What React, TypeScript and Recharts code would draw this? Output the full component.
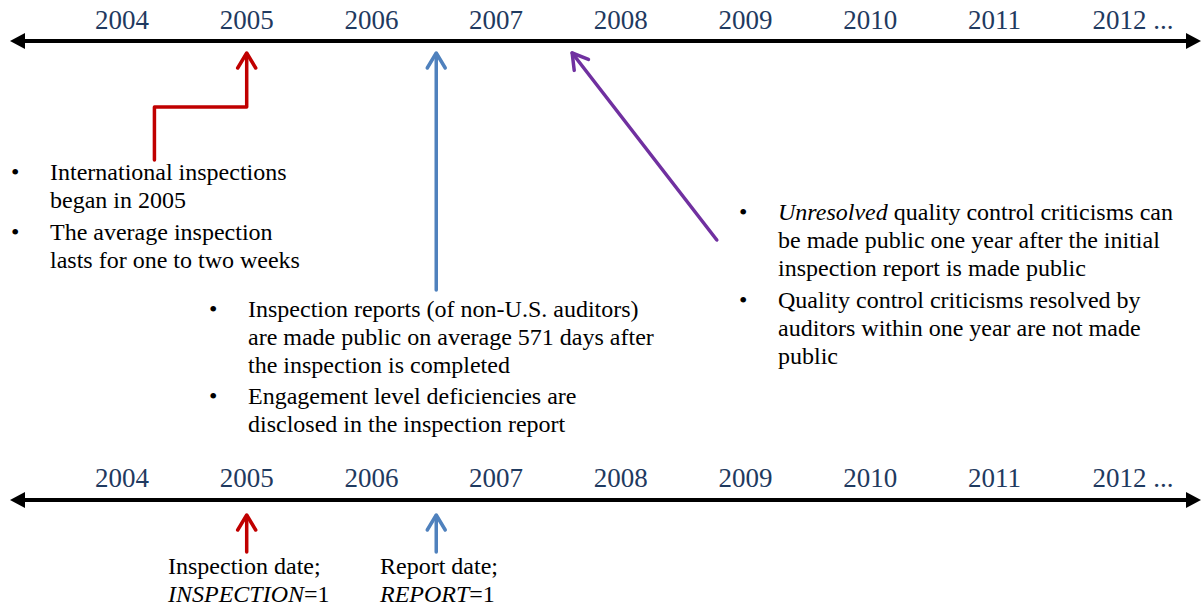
import { ComposedChart, Line, Scatter, XAxis, YAxis } from "recharts";

// ---- data ----
const years = [2004, 2005, 2006, 2007, 2008, 2009, 2010, 2011, 2012];
const yearLabels = ["2004", "2005", "2006", "2007", "2008", "2009", "2010", "2011", "2012 ..."];

// points in time the arrows refer to
const inspectionYear = 2005;
const reportYear = 2006.52; // ~571 days after the inspection
const disclosureYear = 2007.61; // one year after the report
const calloutYear = 2008.77; // tail of the purple arrow
const elbowYear = 2004.26; // left leg of the red elbow arrow

const leftNotes = [
  ["International inspections", "began in 2005"],
  ["The average inspection", "lasts for one to two weeks"],
];
const reportNotes = [
  [
    "Inspection reports (of non-U.S. auditors)",
    "are made public on average 571 days after",
    "the inspection is completed",
  ],
  ["Engagement level deficiencies are", "disclosed in the inspection report"],
];
const disclosureNotes = [
  [
    "*Unresolved* quality control criticisms can",
    "be made public one year after the initial",
    "inspection report is made public",
  ],
  ["Quality control criticisms resolved by", "auditors within one year are not made", "public"],
];
const inspectionCaption = ["Inspection date;", "*INSPECTION*=1"];
const reportCaption = ["Report date;", "*REPORT*=1"];

// ---- layout ----
const W = 1203;
const H = 608;
const X2004 = 122; // px centre of the 2004 label
const PPY = 124.7; // px per year
const toYear = (px: number) => 2004 + (px - X2004) / PPY;
const toPx = (yr: number) => X2004 + (yr - 2004) * PPY;

const TOP_Y = 41;
const BOT_Y = 500;
const SERIF = "'Liberation Serif', 'Times New Roman', serif";
const RED = "#C00000";
const BLUE = "#4F81BD";
const PURPLE = "#7030A0";
const YEAR_COLOR = "#1F3A60";

const axisStart = toYear(24);
const axisEnd = toYear(1187);

const noteRows = (
  notes: string[][],
  px: number,
  first: number,
  lineGap: number,
  paraGap: number
) => {
  const rows: any[] = [];
  let y = first;
  notes.forEach((para, pi) => {
    if (pi > 0) y += paraGap - lineGap;
    para.forEach((text, li) => {
      rows.push({ x: toYear(px), y, text, bullet: li === 0 });
      y += lineGap;
    });
  });
  return rows;
};

const textRows = [
  ...noteRows(leftNotes, 50, 180, 28, 32),
  ...noteRows(reportNotes, 248, 317, 28, 31),
  ...noteRows(disclosureNotes, 778, 220, 28, 32),
  ...inspectionCaption.map((text, i) => ({ x: toYear(168), y: 574 + i * 28, text })),
  ...reportCaption.map((text, i) => ({ x: toYear(380), y: 574 + i * 28, text })),
];

const yearRows = [TOP_Y - 12, BOT_Y - 13].flatMap((y) =>
  years.map((yr, i) => ({ x: yr, y, text: yearLabels[i] }))
);

const angleOf = (fx: number, fy: number, tx: number, ty: number) =>
  (Math.atan2(toPx(tx) - toPx(fx), fy - ty) * 180) / Math.PI;

const heads = [
  { x: toYear(10), y: TOP_Y, angle: -90, color: "#000", solid: true },
  { x: toYear(1201), y: TOP_Y, angle: 90, color: "#000", solid: true },
  { x: toYear(10), y: BOT_Y, angle: -90, color: "#000", solid: true },
  { x: toYear(1201), y: BOT_Y, angle: 90, color: "#000", solid: true },
  { x: inspectionYear, y: 53, angle: 0, color: RED },
  { x: reportYear, y: 53, angle: 0, color: BLUE },
  { x: disclosureYear, y: 53, angle: angleOf(calloutYear, 240, disclosureYear, 53), color: PURPLE },
  { x: inspectionYear, y: 515, angle: 0, color: RED },
  { x: reportYear, y: 515, angle: 0, color: BLUE },
];

const strokes = [
  { color: "#000", w: 4, pts: [{ x: axisStart, y: TOP_Y }, { x: axisEnd, y: TOP_Y }] },
  { color: "#000", w: 4, pts: [{ x: axisStart, y: BOT_Y }, { x: axisEnd, y: BOT_Y }] },
  {
    color: RED,
    w: 3.5,
    pts: [
      { x: elbowYear, y: 160 },
      { x: elbowYear, y: 107 },
      { x: inspectionYear, y: 107 },
      { x: inspectionYear, y: 54 },
    ],
  },
  { color: BLUE, w: 3.5, pts: [{ x: reportYear, y: 290 }, { x: reportYear, y: 54 }] },
  { color: PURPLE, w: 3.5, pts: [{ x: calloutYear, y: 240 }, { x: disclosureYear, y: 53 }] },
  { color: RED, w: 3.5, pts: [{ x: inspectionYear, y: 552 }, { x: inspectionYear, y: 516 }] },
  { color: BLUE, w: 3.5, pts: [{ x: reportYear, y: 552 }, { x: reportYear, y: 516 }] },
];

// "*word*" marks italic runs
const runs = (s: string) =>
  s.split("*").map((part, i) =>
    i % 2 ? (
      <tspan key={i} fontStyle="italic">
        {part}
      </tspan>
    ) : (
      <tspan key={i}>{part}</tspan>
    )
  );

const renderNote = (p: any) => {
  const { cx, cy, payload } = p;
  return (
    <g>
      {payload.bullet && (
        <text x={cx - 39} y={cy} fontFamily={SERIF} fontSize={24} fill="#000">
          •
        </text>
      )}
      <text x={cx} y={cy} fontFamily={SERIF} fontSize={24} fill="#000">
        {runs(payload.text)}
      </text>
    </g>
  );
};

const renderYear = (p: any) => (
  <text
    x={p.cx - 27}
    y={p.cy}
    fontFamily={SERIF}
    fontSize={27}
    fill={YEAR_COLOR}
  >
    {p.payload.text}
  </text>
);

const renderHead = (p: any) => {
  const { cx, cy, payload } = p;
  const t = `translate(${cx},${cy}) rotate(${payload.angle})`;
  if (payload.solid) {
    return <path d="M0 0 L-8 15 L8 15 Z" transform={t} fill={payload.color} />;
  }
  return (
    <path
      d="M-9 15 L0 0 L9 15"
      transform={t}
      fill="none"
      stroke={payload.color}
      strokeWidth={3.5}
      strokeLinecap="round"
      strokeLinejoin="round"
    />
  );
};

export default function App() {
  return (
    <div style={{ position: "absolute", left: 0, top: 0, width: W, height: H, background: "#fff" }}>
      <ComposedChart width={W} height={H} margin={{ top: 0, right: 0, bottom: 0, left: 0 }}>
        <XAxis
          type="number"
          dataKey="x"
          domain={[toYear(0), toYear(W)]}
          allowDataOverflow
          hide
        />
        <YAxis type="number" domain={[0, H]} reversed allowDataOverflow hide />
        {strokes.map((s, i) => (
          <Line
            key={`s${i}`}
            data={s.pts}
            dataKey="y"
            type="linear"
            stroke={s.color}
            strokeWidth={s.w}
            strokeLinecap="round"
            strokeLinejoin="round"
            dot={false}
            activeDot={false}
            isAnimationActive={false}
          />
        ))}
        <Scatter data={heads} dataKey="y" shape={renderHead} isAnimationActive={false} />
        <Scatter data={yearRows} dataKey="y" shape={renderYear} isAnimationActive={false} />
        <Scatter data={textRows} dataKey="y" shape={renderNote} isAnimationActive={false} />
      </ComposedChart>
    </div>
  );
}
